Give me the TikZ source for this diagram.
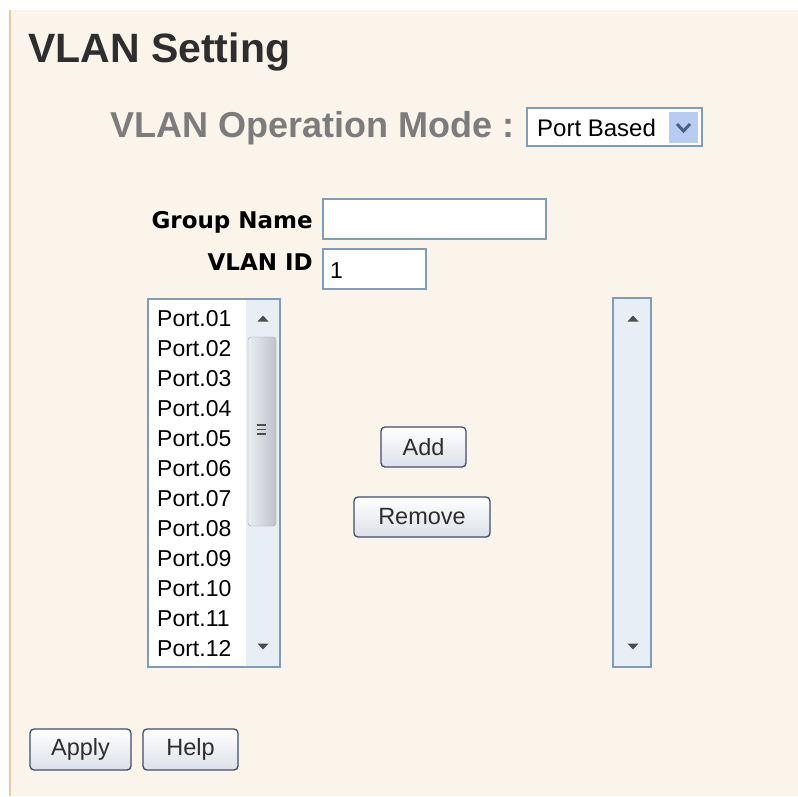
\documentclass[tikz,border=0pt]{standalone}
\usepackage{fontspec}
\setmainfont{Liberation Sans}
\newfontfamily\tahoma{DejaVu Sans}
\definecolor{paper}{HTML}{FBF4EB}
\definecolor{rim}{HTML}{E2CCA2}
\definecolor{ink}{HTML}{2E2E2E}
\definecolor{dim}{HTML}{7C7C7C}
\definecolor{field}{HTML}{7F9DB9}
\definecolor{bar}{HTML}{E7EEF6}
\definecolor{btnrim}{HTML}{3D4F6A}
\definecolor{btnlow}{HTML}{DCE0E8}
\definecolor{drop}{HTML}{B8CCF2}
\definecolor{chev}{HTML}{4A5F8A}
\definecolor{tip}{HTML}{4D4D4D}
\tikzset{
  fieldbox/.style={draw=field, fill=white, line width=1.2pt},
  button/.style={draw=btnrim, line width=1.3pt, rounded corners=4pt,
    top color=white, bottom color=btnlow, text=ink, inner sep=0,
    minimum height=40pt, font=\fontsize{23.5}{23.5}\selectfont},
  porttext/.style={anchor=base west, inner sep=0, text=black,
    font=\fontsize{23}{23}\selectfont},
  label/.style={anchor=base east, inner sep=0, text=black,
    font=\tahoma\bfseries\fontsize{23}{23}\selectfont}
}
\begin{document}
\begin{tikzpicture}[x=1pt, y=-1pt]
        \useasboundingbox (0,0) rectangle (798,796);
        \fill[white] (0,0) rectangle (798,796);
        \fill[paper] (10,10) rectangle (798,796);
        \draw[rim, line width=2pt] (10,10) -- (10,796);
        % headings
        \node[anchor=base west, inner sep=0, text=ink,
              font=\bfseries\fontsize{41}{41}\selectfont] (title) at (28,62) {VLAN Setting};
        \node[anchor=base west, inner sep=0, text=dim,
              font=\bfseries\fontsize{36}{36}\selectfont] (mode) at (110,137) {VLAN Operation Mode :};
        % mode drop-down
        \draw[fieldbox] (527,108) rectangle (702,146);
        \fill[drop] (669,112) rectangle (698,143);
        \draw[chev, line width=3pt] (677,124) -- (683.5,131) -- (690,124);
        \node[porttext, font=\fontsize{24}{24}\selectfont] (modeval) at (537,136) {Port Based};
        % name and id
        \node[label] (gname) at (313,228) {Group Name};
        \draw[fieldbox] (323,199) rectangle (546,239);
        \node[label] (vid) at (313,270) {VLAN ID};
        \draw[fieldbox] (323,249) rectangle (426,289);
        \node[porttext] (vidval) at (330,278) {1};
        % left list
        \draw[fieldbox] (148,299) rectangle (280,667);
        \fill[bar] (246,300) rectangle (279.4,666.4);
        \draw[draw={rgb,255:red,160;green,166;blue,176}, left color={rgb,255:red,236;green,238;blue,241},
              right color={rgb,255:red,190;green,194;blue,202}, rounded corners=3pt]
              (248,337) rectangle (276,526);
        \foreach \g in {425,429.5,434} {
            \draw[tip, line width=1.1pt] (257,\g) -- (266,\g);
        }
        \foreach \p [count=\i from 0] in {01,02,03,04,05,06,07,08,09,10,11,12} {
            \node[porttext] (p\p) at (157,326+30*\i) {Port.\p};
        }
        % right list
        \draw[fieldbox] (613,298) rectangle (651,667);
        \fill[bar] (614,299) rectangle (650.4,666.4);
        \foreach \c in {263,633} {
            \fill[tip] (\c-5.5,321.5) -- (\c+5.5,321.5) -- (\c,315.5) -- cycle;
            \fill[tip] (\c-5.5,643.5) -- (\c+5.5,643.5) -- (\c,649.5) -- cycle;
        }
        % buttons
        \node[button, minimum width=85pt] (add) at (423.5,447) {Add};
        \node[button, minimum width=136pt] (remove) at (422,517) {Remove};
        \node[button, minimum width=101pt, minimum height=41pt] (apply) at (80.5,749.5) {Apply};
        \node[button, minimum width=95pt, minimum height=41pt] (help) at (190.5,749.5) {Help};
\end{tikzpicture}
\end{document}
